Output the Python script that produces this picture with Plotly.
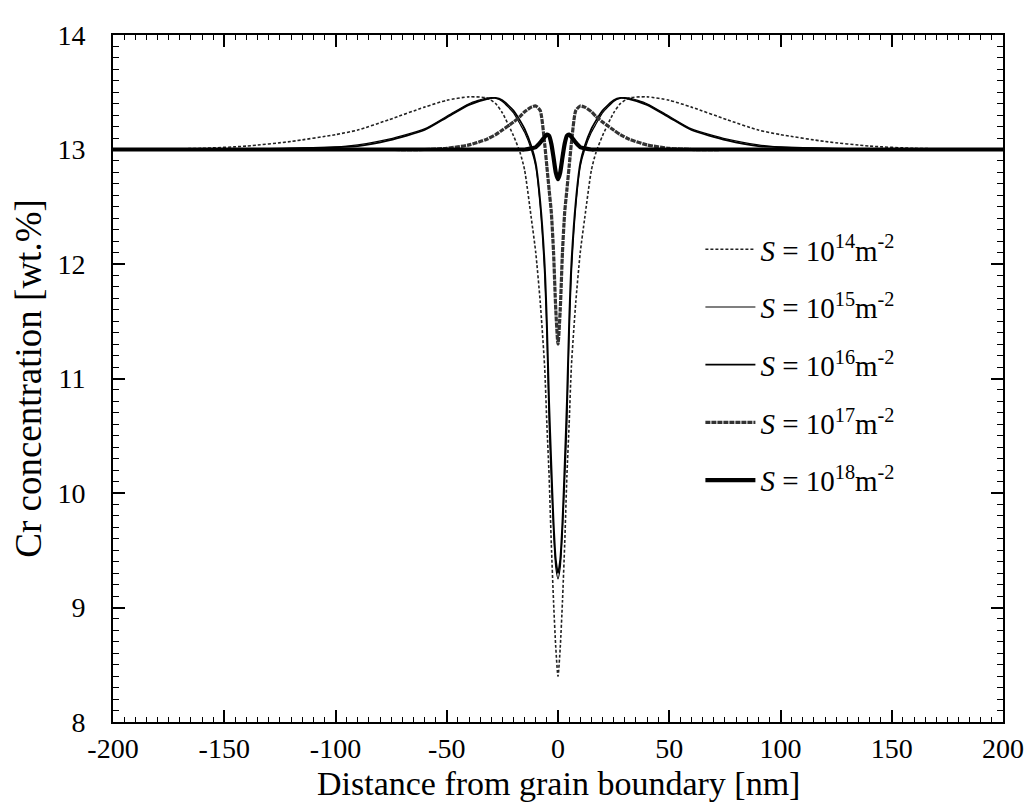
import plotly.graph_objects as go

# distance from grain boundary [nm]
x_nm = [-200, -160, -140, -120, -100, -90, -76, -60, -50, -40, -32, -28, -25, -20, -17, -15, -12, -10, -8, -6, -5, -4, -3, -2, -1, 0,
        1, 2, 3, 4, 5, 6, 8, 10, 12, 15, 17, 20, 25, 28, 32, 40, 50, 60, 76, 90, 100, 120, 140, 160, 200]

# Cr concentration [wt.%] for each dislocation density S
cr_s14 = [13.0, 13.01, 13.03, 13.07, 13.13, 13.17, 13.26, 13.37, 13.43, 13.46, 13.45, 13.40, 13.32, 13.12, 12.97, 12.82, 12.40, 12.10, 11.67, 11.10, 10.60, 10.15, 9.55, 9.05, 8.65, 8.40,
          8.65, 9.05, 9.55, 10.15, 10.60, 11.10, 11.67, 12.10, 12.40, 12.82, 12.97, 13.12, 13.32, 13.40, 13.45, 13.46, 13.43, 13.37, 13.26, 13.17, 13.13, 13.07, 13.03, 13.01, 13.0]
cr_s15 = [13.0, 13.0, 13.0, 13.01, 13.02, 13.04, 13.09, 13.18, 13.29, 13.40, 13.45, 13.45, 13.42, 13.32, 13.22, 13.15, 13.00, 12.85, 12.50, 11.90, 11.35, 10.60, 10.10, 9.65, 9.35, 9.25,
          9.35, 9.65, 10.10, 10.60, 11.35, 11.90, 12.50, 12.85, 13.00, 13.15, 13.22, 13.32, 13.42, 13.45, 13.45, 13.40, 13.29, 13.18, 13.09, 13.04, 13.02, 13.01, 13.0, 13.0, 13.0]
cr_s16 = [13.0, 13.0, 13.0, 13.01, 13.02, 13.03, 13.08, 13.17, 13.28, 13.39, 13.44, 13.45, 13.43, 13.34, 13.25, 13.18, 13.03, 12.88, 12.55, 12.00, 11.50, 10.80, 10.25, 9.75, 9.42, 9.30,
          9.42, 9.75, 10.25, 10.80, 11.50, 12.00, 12.55, 12.88, 13.03, 13.18, 13.25, 13.34, 13.43, 13.45, 13.44, 13.39, 13.28, 13.17, 13.08, 13.03, 13.02, 13.01, 13.0, 13.0, 13.0]
cr_s17 = [13.0, 13.0, 13.0, 13.0, 13.0, 13.0, 13.0, 13.0, 13.01, 13.04, 13.09, 13.13, 13.17, 13.24, 13.29, 13.33, 13.37, 13.38, 13.34, 13.05, 12.85, 12.65, 12.45, 12.10, 11.60, 11.30,
          11.60, 12.10, 12.45, 12.65, 12.85, 13.05, 13.34, 13.38, 13.37, 13.33, 13.29, 13.24, 13.17, 13.13, 13.09, 13.04, 13.01, 13.0, 13.0, 13.0, 13.0, 13.0, 13.0, 13.0, 13.0]
cr_s18 = [13.0, 13.0, 13.0, 13.0, 13.0, 13.0, 13.0, 13.0, 13.0, 13.0, 13.0, 13.0, 13.0, 13.0, 13.0, 13.0, 13.01, 13.02, 13.06, 13.11, 13.13, 13.12, 13.05, 12.93, 12.80, 12.74,
          12.80, 12.93, 13.05, 13.12, 13.13, 13.11, 13.06, 13.02, 13.01, 13.0, 13.0, 13.0, 13.0, 13.0, 13.0, 13.0, 13.0, 13.0, 13.0, 13.0, 13.0, 13.0, 13.0, 13.0, 13.0]

labels = ["<i>S</i> = 10<sup>14</sup>m<sup>-2</sup>",
          "<i>S</i> = 10<sup>15</sup>m<sup>-2</sup>",
          "<i>S</i> = 10<sup>16</sup>m<sup>-2</sup>",
          "<i>S</i> = 10<sup>17</sup>m<sup>-2</sup>",
          "<i>S</i> = 10<sup>18</sup>m<sup>-2</sup>"]

x_ticks = [-200, -150, -100, -50, 0, 50, 100, 150, 200]
x_ticktext = ["-200", "-150", "-100", "-50", "0", "50", "100", "150", "200"]
y_ticks = [8, 9, 10, 11, 12, 13, 14]
x_title = "Distance from grain boundary [nm]"
y_title = "Cr concentration [wt.%]"

styles = [
    dict(color="#222222", width=1.6, dash="3px,2px"),
    dict(color="#000000", width=1.2, dash="solid"),
    dict(color="#000000", width=1.8, dash="solid"),
    dict(color="#333333", width=3.2, dash="5px,1px"),
    dict(color="#000000", width=4.2, dash="solid"),
]

FONT = "Liberation Serif, Times New Roman, serif"

fig = go.Figure()
for i, (ys, lab) in enumerate(zip([cr_s14, cr_s15, cr_s16, cr_s17, cr_s18], labels)):
    fig.add_trace(go.Scatter(
        x=x_nm, y=ys, mode="lines", name=lab, legendgroup=f"g{i}",
        line=dict(shape="spline", smoothing=0.6, **styles[i]),
    ))

axis_common = dict(
    showline=True, linecolor="black", linewidth=2, mirror="allticks",
    ticks="inside", tickcolor="black", tickwidth=1.5,
    showgrid=False, zeroline=False,
    tickfont=dict(family=FONT, size=28, color="black"),
)

fig.update_xaxes(
    range=[-200, 200], tickvals=x_ticks, ticktext=x_ticktext, ticklen=12,
    minor=dict(dtick=5, ticklen=5, ticks="inside", tickcolor="black", tickwidth=1.2, showgrid=False),
    ticklabelstandoff=0,
    **axis_common,
)
fig.update_yaxes(
    range=[8, 14], tickvals=y_ticks, ticklen=12,
    minor=dict(dtick=0.1, ticklen=6, ticks="inside", tickcolor="black", tickwidth=1.2, showgrid=False),
    title=dict(text=y_title, font=dict(family=FONT, size=37, color="black"), standoff=4),
    ticklabelstandoff=20,
    **axis_common,
)

fig.add_annotation(
    text=x_title, xref="paper", yref="paper", x=0.5, y=-0.089,
    xanchor="center", yanchor="middle", showarrow=False,
    font=dict(family=FONT, size=34, color="black"),
)

fig.update_layout(
    width=1032, height=803,
    margin=dict(l=105, r=37, t=25, b=89),
    paper_bgcolor="white", plot_bgcolor="white",
    font=dict(family=FONT, color="black"),
    legend=dict(
        x=0.66, y=0.725, xanchor="left", yanchor="top",
        bgcolor="rgba(0,0,0,0)", borderwidth=0,
        font=dict(family=FONT, size=29, color="black"),
        tracegroupgap=17, itemwidth=50,
    ),
    showlegend=True,
)

fig.write_html("out.html")
